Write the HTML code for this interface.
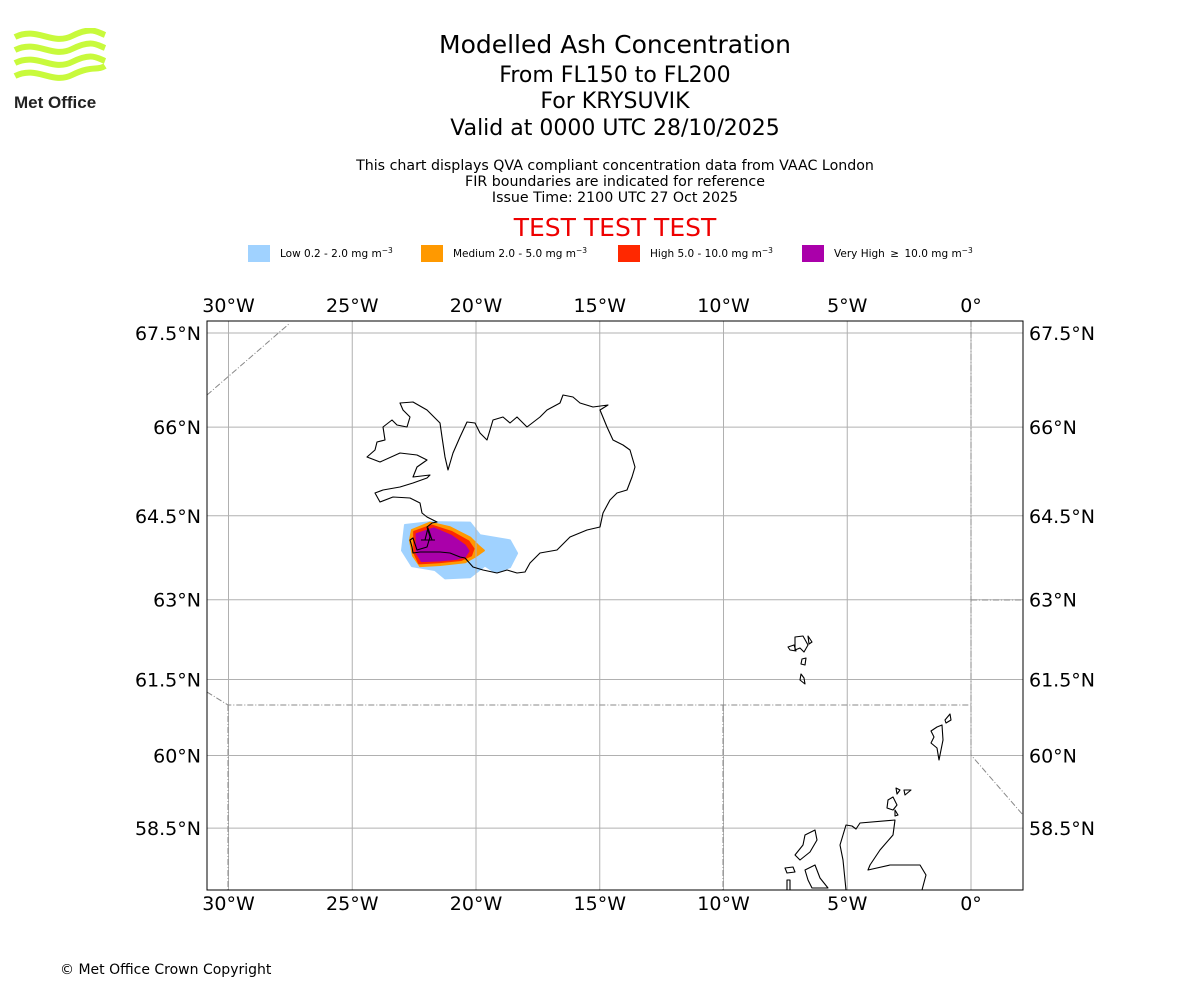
<!DOCTYPE html>
<html><head><meta charset="utf-8"><style>
body{margin:0;background:#fff;font-family:"DejaVu Sans","Liberation Sans",sans-serif;}
#wrap{position:relative;width:1200px;height:1000px;overflow:hidden;}
.t{position:absolute;left:0;width:1230px;text-align:center;color:#000;white-space:nowrap;}
</style></head><body>
<div id="wrap">
<svg style="position:absolute;left:12px;top:28px" width="100" height="86">
<g fill="none" stroke="#c8fa3c" stroke-width="6">
<path d="M3 9 C25 -2 40 18 60 8 S85 4 93 7"/>
<path d="M3 22 C25 11 40 31 60 21 S85 17 93 20"/>
<path d="M3 35 C25 24 40 44 60 34 S85 30 93 33"/>
<path d="M3 48 C25 37 40 57 60 47 S85 43 93 38"/>
</g>
<text x="2" y="80" font-family="Liberation Sans,sans-serif" font-size="17" font-weight="bold" fill="#222">Met Office</text>
</svg>
<div class="t" style="top:30px;font-size:25px">Modelled Ash Concentration</div>
<div class="t" style="top:63px;font-size:22px">From FL150 to FL200</div>
<div class="t" style="top:89px;font-size:22px">For KRYSUVIK</div>
<div class="t" style="top:116px;font-size:22px">Valid at 0000 UTC 28/10/2025</div>
<div class="t" style="top:158px;font-size:14.2px;line-height:16px">This chart displays QVA compliant concentration data from VAAC London<br>FIR boundaries are indicated for reference<br>Issue Time: 2100 UTC 27 Oct 2025</div>
<div class="t" style="top:213px;font-size:25px;color:#e00">TEST TEST TEST</div>
<svg id="map" width="1200" height="1000" style="position:absolute;left:0;top:0"></svg>
<div style="position:absolute;left:60px;top:962px;font-size:14px">© Met Office Crown Copyright</div>
</div>
<script>
const lonTicks=[-30,-25,-20,-15,-10,-5,0];
const latTicks=[67.5,66,64.5,63,61.5,60,58.5];
const legendLabels=["Low 0.2 - 2.0 mg m","Medium 2.0 - 5.0 mg m","High 5.0 - 10.0 mg m","Very High \u2009\u2265\u2009 10.0 mg m"];
const legendColors=["#a0d2ff","#ff9900","#ff2800","#aa00aa"];
const plumeLow=[[-22.87,64.34],[-21.86,64.39],[-20.24,64.38],[-19.84,64.16],[-18.63,64.07],[-18.34,63.84],[-18.63,63.59],[-19.23,63.50],[-19.64,63.62],[-20.24,63.41],[-21.25,63.39],[-21.66,63.54],[-22.59,63.61],[-22.99,63.89]];
const plumeMed=[[-22.59,64.25],[-21.86,64.38],[-21.05,64.30],[-20.24,64.12],[-19.92,63.98],[-19.68,63.89],[-20.0,63.79],[-20.44,63.68],[-21.45,63.63],[-22.26,63.61],[-22.55,63.80],[-22.67,64.07]];
const plumeHigh=[[-22.5,64.22],[-21.8,64.33],[-21.0,64.22],[-20.3,64.05],[-20.1,63.92],[-20.2,63.8],[-20.6,63.72],[-21.5,63.68],[-22.3,63.66],[-22.5,63.85]];
const plumeVHigh=[[-22.4,64.18],[-21.7,64.28],[-21.0,64.15],[-20.45,63.98],[-20.3,63.88],[-20.45,63.78],[-20.8,63.74],[-21.5,63.71],[-22.2,63.70],[-22.4,63.85]];

const NS="http://www.w3.org/2000/svg";
const svg=document.getElementById('map');
const L=207,R=1023,T=321,B=890;
const merc=l=>Math.log(Math.tan(Math.PI/4+l*Math.PI/360));
const xS=lon=>971+lon*24.75;
const yS=lat=>333-(merc(lat)-merc(67.5))*1418;
function el(tag,attrs,parent){const e=document.createElementNS(NS,tag);for(const k in attrs)e.setAttribute(k,attrs[k]);(parent||svg).appendChild(e);return e;}
const defs=el('defs',{});
const cp=el('clipPath',{id:'clip'},defs);el('rect',{x:L,y:T,width:R-L,height:B-T},cp);
const g=el('g',{'clip-path':'url(#clip)'});
[[plumeLow,0],[plumeMed,1],[plumeHigh,2],[plumeVHigh,3]].forEach(([p,i])=>{
 const e=el('polygon',{points:p.map(q=>xS(q[0])+','+yS(q[1])).join(' '),fill:legendColors[i],'stroke':legendColors[i],'stroke-width':2,'stroke-linejoin':'round'},g);
 
 
});
lonTicks.forEach(v=>{const e=el('line',{x1:xS(v),x2:xS(v),y1:T,y2:B,stroke:'#b0b0b0','stroke-width':1},g);
});
latTicks.forEach(v=>{const e=el('line',{x1:L,x2:R,y1:yS(v),y2:yS(v),stroke:'#b0b0b0','stroke-width':1},g);
});
const fir=["M207 395 L290 323","M207 692 L228 705 L971 705","M228 705 L228 890","M723 705 L723 890","M971 321 L971 755 L1023 815","M971 600 L1023 600"];
fir.forEach(d=>{const e=el('path',{d:d,fill:'none',stroke:'#888','stroke-width':1,'stroke-dasharray':'6 2 1 2'},g);
});
const coasts=[
"M400 403 L413 402 L427 410 L440 423 L442 437 L445 457 L448 470 L453 453 L460 437 L467 422 L475 423 L480 433 L487 440 L493 420 L503 417 L510 423 L517 417 L523 423 L527 427 L540 417 L547 410 L560 403 L563 395 L573 397 L580 403 L593 407 L608 405 L600 410 L607 427 L613 440 L623 445 L630 450 L635 467 L632 477 L627 490 L617 493 L610 500 L603 513 L600 527 L587 530 L570 537 L557 550 L540 553 L530 563 L525 572 L517 573 L507 570 L497 573 L483 570 L473 567 L465 558 L460 557 L450 553 L440 552 L420 552 L413 553 L412 547 L410 540 L413 538 L417 550 L427 547 L430 537 L427 527 L432 523 L437 522 L427 517 L422 513 L420 503 L410 498 L393 497 L380 502 L375 493 L383 490 L400 487 L413 483 L427 478 L430 475 L413 477 L417 467 L427 460 L417 455 L400 453 L380 462 L367 457 L375 450 L377 442 L385 440 L383 427 L392 420 L397 425 L407 427 L410 417 L403 410 Z",
"M425 540 L428 528 L432 540 M421 540 L435 540",
"M795 637 L803 636 L808 645 L804 652 L800 648 L795 650 Z","M808 636 L812 642 L809 644 Z","M788 647 L794 645 L796 651 L790 650 Z","M802 659 L806 658 L805 665 L801 664 Z","M801 674 L804 678 L805 684 L800 680 Z",
"M937 727 L942 725 L943 740 L940 755 L939 760 L937 748 L931 743 L934 737 L931 731 Z","M945 720 L950 714 L951 720 L946 723 Z",
"M888 800 L893 797 L897 805 L893 810 L887 808 Z","M896 788 L900 790 L897 794 Z","M904 790 L911 790 L905 795 Z","M895 810 L898 815 L895 816 Z",
"M846 890 L843 860 L840 845 L846 825 L852 826 L856 829 L860 823 L895 820 L893 835 L880 850 L870 865 L868 870 L890 865 L920 865 L926 875 L922 890",
"M815 830 L817 840 L810 852 L800 860 L795 855 L803 845 L805 835 Z","M785 868 L793 867 L795 872 L787 873 Z","M805 870 L815 865 L820 878 L828 888 L812 888 L808 880 Z","M787 880 L790 880 L790 890 L787 890 Z"
];
coasts.forEach(d=>{const e=el('path',{d:d,fill:'none',stroke:'#000','stroke-width':1.1,'stroke-linejoin':'round'},g);
});
const fr=el('rect',{x:L,y:T,width:R-L,height:B-T,fill:'none',stroke:'#000','stroke-width':1});

const lonLab=v=>v===0?'0°':Math.abs(v)+'°W';
const latLab=v=>v+'°N';
lonTicks.forEach(v=>{[[312,'top'],[910,'bottom']].forEach(([y,s])=>{
 const t=el('text',{x:xS(v),y:y,'text-anchor':'middle','font-size':19,'font-family':'DejaVu Sans,sans-serif'});t.textContent=lonLab(v);
 });});
latTicks.forEach(v=>{
 const a=el('text',{x:201,y:yS(v)+7,'text-anchor':'end','font-size':19,'font-family':'DejaVu Sans,sans-serif'});a.textContent=latLab(v);
 
 const b=el('text',{x:1029,y:yS(v)+7,'text-anchor':'start','font-size':19,'font-family':'DejaVu Sans,sans-serif'});b.textContent=latLab(v);
 });
const legX=[248,421,618,802];
legendLabels.forEach((lab,i)=>{
 const r=el('rect',{x:legX[i],y:245,width:22,height:17,fill:legendColors[i]});
 
 const t=el('text',{x:legX[i]+32,y:257,'font-size':10.5,'font-family':'DejaVu Sans,sans-serif'});
 t.textContent=lab;const s=el('tspan',{dy:-4,'font-size':7.5},t);s.textContent='\u22123';
 
});
</script>
</body></html>
